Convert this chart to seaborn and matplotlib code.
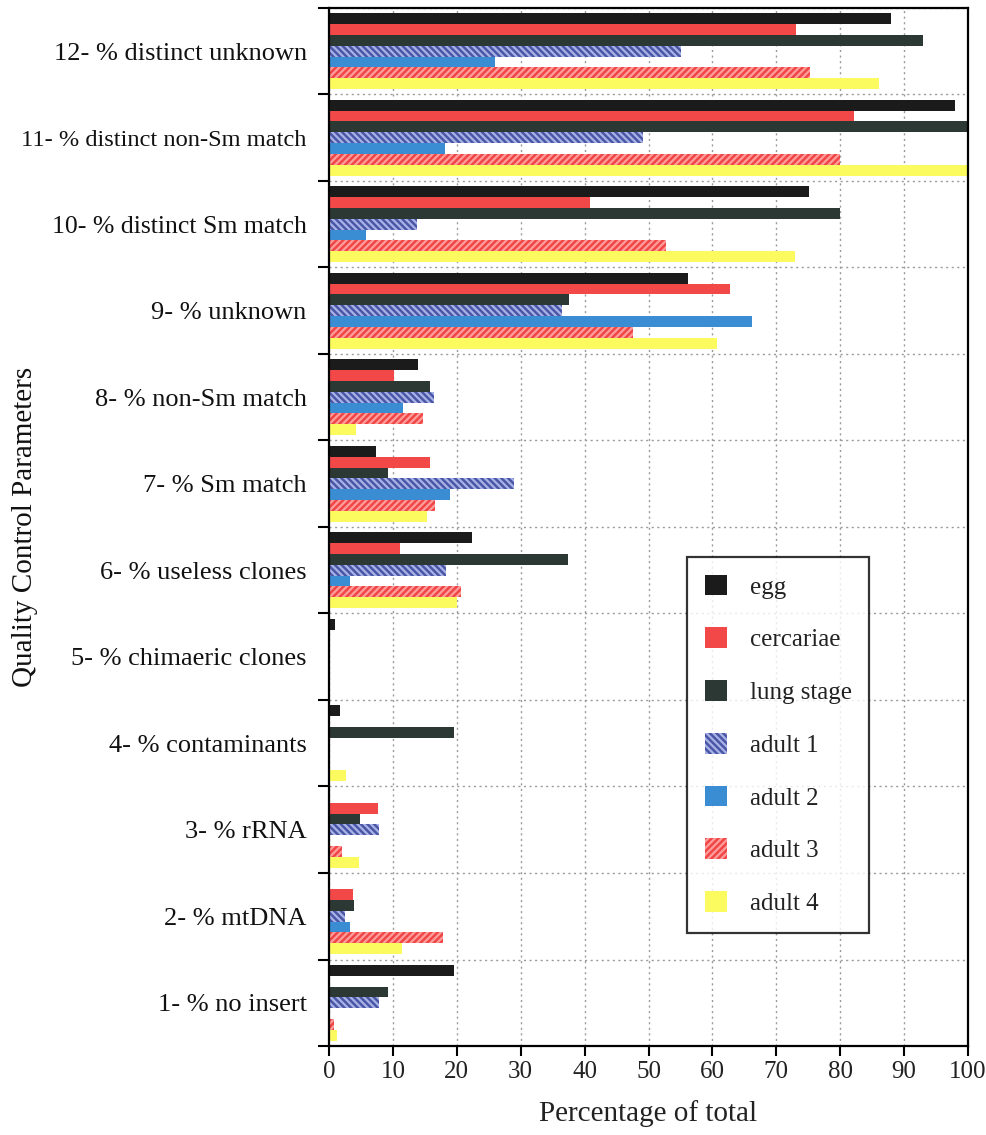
import matplotlib
matplotlib.use("Agg")
import matplotlib.pyplot as plt
from matplotlib.patches import Patch
from matplotlib.ticker import FixedLocator
import numpy as np
import pandas as pd
import seaborn as sns

# Quality-control parameters, listed top to bottom
categories = [
    "12- % distinct unknown",
    "11- % distinct non-Sm match",
    "10- % distinct Sm match",
    "9- % unknown",
    "8- % non-Sm match",
    "7- % Sm match",
    "6- % useless clones",
    "5- % chimaeric clones",
    "4- % contaminants",
    "3- % rRNA",
    "2- % mtDNA",
    "1- % no insert",
]

series = ["egg", "cercariae", "lung stage", "adult 1", "adult 2", "adult 3", "adult 4"]

# Percentage of total, one list per library (same order as categories)
egg        = [88.0, 98.0, 75.1, 56.2, 14.0,  7.4, 22.4, 0.9, 1.8, 0.0, 0.0, 19.6]
cercariae  = [73.1, 82.1, 40.9, 62.7, 10.2, 15.8, 11.1, 0.0, 0.0, 7.6, 3.8,  0.0]
lung_stage = [93.0, 100.0, 79.9, 37.5, 15.8,  9.2, 37.4, 0.0, 19.6, 4.8, 3.9, 9.2]
adult_1    = [55.1, 49.2, 13.8, 36.5, 16.4, 28.9, 18.3, 0.0, 0.0, 7.9, 2.5,  7.8]
adult_2    = [26.0, 18.1,  5.8, 66.2, 11.6, 19.0,  3.3, 0.0, 0.0, 0.0, 3.3,  0.0]
adult_3    = [75.2, 79.9, 52.8, 47.6, 14.7, 16.6, 20.7, 0.0, 0.0, 2.1, 17.8, 0.8]
adult_4    = [86.0, 100.0, 72.9, 60.7, 4.3, 15.4, 20.1, 0.0, 2.7, 4.7, 11.4, 1.2]

values = [egg, cercariae, lung_stage, adult_1, adult_2, adult_3, adult_4]

x_ticks = list(range(0, 101, 10))

df = pd.DataFrame(
    [(c, s, v) for s, vals in zip(series, values) for c, v in zip(categories, vals)],
    columns=["parameter", "library", "percent"],
)

colors = {
    "egg": "#1b1b1b",
    "cercariae": "#f24848",
    "lung stage": "#2b3833",
    "adult 1": "#4a57a6",
    "adult 2": "#3a8dd2",
    "adult 3": "#f04646",
    "adult 4": "#fbfb60",
}
hatches = {"adult 1": "\\\\\\\\\\", "adult 3": "/////"}
hatch_colors = {"adult 1": "#a9b2e6", "adult 3": "#ff9c9c"}

sns.set_style("white")
plt.rcParams["font.family"] = ["Liberation Serif", "DejaVu Serif"]
plt.rcParams["hatch.linewidth"] = 1.6
plt.rcParams["text.color"] = "#111111"

fig = plt.figure(figsize=(9.87, 11.35), dpi=100)
ax = fig.add_axes([0.3333, 0.0784, 0.6475, 0.9146])

sns.barplot(
    data=df, y="parameter", x="percent", hue="library",
    order=categories, hue_order=series, palette=colors,
    orient="h", width=0.875, dodge=True, errorbar=None,
    saturation=1, legend=False, ax=ax, linewidth=0,
)

for name, cont in zip(series, ax.containers):
    for bar in cont:
        bar.set_linewidth(0)
        if name in hatches:
            bar.set_hatch(hatches[name])
            bar.set_edgecolor(hatch_colors[name])

ax.set_xlim(0, 100)
ax.set_ylim(len(categories) - 0.5, -0.5)
ax.xaxis.set_major_locator(FixedLocator(x_ticks))
ax.set_xticklabels([str(t) for t in x_ticks])

# category labels centred in each band; tick marks on band boundaries
ax.yaxis.set_major_locator(FixedLocator(np.arange(len(categories))))
ax.yaxis.set_minor_locator(FixedLocator(np.arange(len(categories) + 1) - 0.5))
ax.tick_params(axis="y", which="major", length=0, labelsize=19, pad=16,
               labelcolor="#111111")
ax.tick_params(axis="y", which="minor", length=8, width=1.5, color="black", left=True)
ax.tick_params(axis="x", which="major", length=7, width=1.5, color="black",
               bottom=True, labelsize=18, pad=4, labelcolor="#222222")

# the two longest labels are set a little tighter
for lab in ax.get_yticklabels():
    if lab.get_text().startswith("11-"):
        lab.set_fontsize(17.6)
    elif lab.get_text().startswith("10-"):
        lab.set_fontsize(18.5)

ax.grid(False)
ax.xaxis.grid(True, which="major", linestyle=(0, (1.5, 2.5)), color="#9a9a9a", linewidth=1)
ax.yaxis.grid(True, which="minor", linestyle=(0, (1.5, 2.5)), color="#9a9a9a", linewidth=1)
ax.set_axisbelow(True)

for sp in ax.spines.values():
    sp.set_visible(True)
    sp.set_color("black")
    sp.set_linewidth(1.6)

ax.set_xlabel("Percentage of total", fontsize=21, labelpad=12, color="#222222")
ax.set_ylabel("Quality Control Parameters", fontsize=21, color="#111111")
ax.yaxis.set_label_coords(-0.455, 0.5)

handles = []
for name in series:
    handles.append(Patch(facecolor=colors[name],
                         edgecolor=hatch_colors.get(name, colors[name]),
                         hatch=hatches.get(name), linewidth=0, label=name))
leg = ax.legend(
    handles=handles, loc="upper left", bbox_to_anchor=(0.561, 0.471),
    fontsize=18, frameon=True, fancybox=False, edgecolor="black",
    handlelength=0.9, handleheight=0.9, labelspacing=1.15,
    handletextpad=0.9, borderpad=0.7, borderaxespad=0,
)
leg.get_frame().set_linewidth(1.6)
for t in leg.get_texts():
    t.set_color("#222222")

fig.savefig("out.png", dpi=100, facecolor="white")
